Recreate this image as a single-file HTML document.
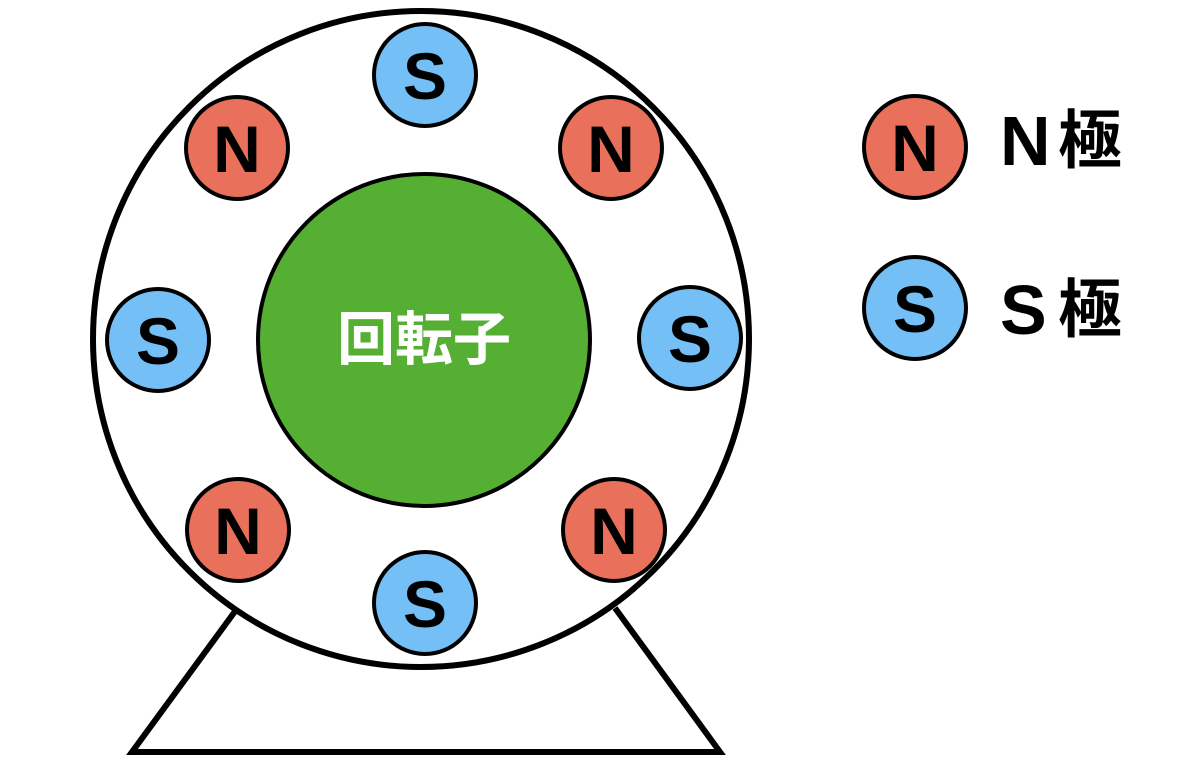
<!DOCTYPE html>
<html><head><meta charset="utf-8"><style>
html,body{margin:0;padding:0;background:#fff;}
svg{display:block;}
text{font-family:"Liberation Sans","Noto Sans CJK JP",sans-serif;font-weight:bold;}
</style></head><body>
<svg width="1200" height="768" viewBox="0 0 1200 768">
<polyline points="236,610 132,752 720,752 615,608" fill="none" stroke="#000" stroke-width="6" stroke-linejoin="miter"/>
<circle cx="421" cy="339" r="328" fill="#fff" stroke="#000" stroke-width="6"/>
<circle cx="424" cy="340" r="166" fill="#55AF32" stroke="#000" stroke-width="4"/>
<text x="424" y="340" font-size="58" fill="#fff" text-anchor="middle" dominant-baseline="central">回転子</text>
<g stroke="#000" stroke-width="4" font-size="66">
<circle cx="425" cy="75" r="51" fill="#75BFF7"/>
<circle cx="237" cy="148" r="51" fill="#E9705A"/>
<circle cx="611" cy="148" r="51" fill="#E9705A"/>
<circle cx="158" cy="340" r="51" fill="#75BFF7"/>
<circle cx="690" cy="338" r="51" fill="#75BFF7"/>
<circle cx="238" cy="530" r="51" fill="#E9705A"/>
<circle cx="614" cy="530" r="51" fill="#E9705A"/>
<circle cx="425" cy="603" r="51" fill="#75BFF7"/>
<circle cx="915" cy="147" r="51" fill="#E9705A"/>
<circle cx="915" cy="308" r="51" fill="#75BFF7"/>
</g>
<g font-size="66" fill="#000" text-anchor="middle">
<text x="425" y="99">S</text>
<text x="237" y="172">N</text>
<text x="611" y="172">N</text>
<text x="158" y="364">S</text>
<text x="690" y="362">S</text>
<text x="238" y="554">N</text>
<text x="614" y="554">N</text>
<text x="425" y="627">S</text>
<text x="915" y="171">N</text>
<text x="915" y="332">S</text>
</g>
<text x="1000" y="165" font-size="70" fill="#000">N</text>
<text x="1058" y="163" font-size="64" fill="#000">極</text>
<text x="1000" y="334" font-size="70" fill="#000">S</text>
<text x="1058" y="332" font-size="64" fill="#000">極</text>
</svg>
</body></html>
